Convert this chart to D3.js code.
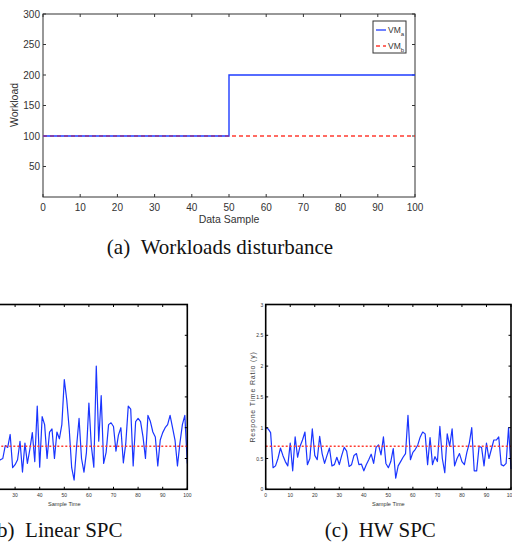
<!DOCTYPE html>
<html>
<head>
<meta charset="utf-8">
<script src="https://cdn.jsdelivr.net/npm/d3@7"></script>
<style>
    body { margin: 0; background: #fff; }
    svg { display: block; }
</style>
</head>
<body>
<div id="fig"></div>
<script>
// ---- data ----
// (a) workload disturbance, step series
var workloadSamples = [0, 50, 100];
var workloadVMa = [100, 200, 200];
var workloadVMb = [100, 100, 100];
var workloadTicksX = [0, 10, 20, 30, 40, 50, 60, 70, 80, 90, 100];
var workloadTicksY = [50, 100, 150, 200, 250, 300];

// (b) linear SPC response time ratio, samples 0..100
var linearSpc = [
    0.55, 0.62, 0.48, 0.7, 0.52, 0.6, 0.45, 0.66, 0.58, 0.5,
    0.72, 0.47, 0.61, 0.55, 0.68, 0.5, 0.57, 0.63, 0.46, 0.6,
    0.52, 0.66, 0.5, 0.45, 0.48, 0.5, 0.71, 0.68, 0.89, 0.35,
    0.4, 0.48, 0.78, 0.28, 0.75, 0.42, 0.65, 0.92, 0.45, 1.35,
    0.36, 1.18, 1.05, 0.5, 0.93, 0.98, 0.5, 0.93, 0.82, 1.05,
    1.78, 1.45, 0.98, 0.35, 0.15, 0.7, 1.15, 0.5, 0.28, 0.6,
    1.4, 0.7, 0.36, 2.0, 0.78, 1.52, 0.42, 0.6, 1.05, 1.08,
    1.02, 0.62, 0.88, 1.0, 0.43, 0.75, 1.35, 1.3, 0.38, 1.1,
    1.15, 1.1, 0.85, 0.5, 1.2, 1.1, 0.93, 0.85, 0.38, 0.8,
    0.92, 1.0, 1.05, 1.2, 1.0, 0.8, 0.38, 0.75, 1.05, 1.2,
    0.42
];

// (c) HW SPC response time ratio, samples 0..100
var hwSpc = [
    1.0, 0.98, 0.92, 0.35, 0.38, 0.5, 0.67, 0.55, 0.45, 0.38,
    0.75, 0.3, 0.85, 0.52, 0.7, 0.8, 0.93, 0.4, 0.5, 0.98,
    0.55, 0.48, 0.86, 0.58, 0.42, 0.55, 0.67, 0.38, 0.4, 0.52,
    0.4, 0.55, 0.68, 0.62, 0.37, 0.4, 0.55, 0.58, 0.4, 0.41,
    0.3, 0.4, 0.48, 0.57, 0.42, 0.68, 0.72, 0.56, 0.85, 0.42,
    0.35, 0.45, 0.66, 0.18, 0.38, 0.45, 0.52, 0.58, 1.2, 0.48,
    0.6, 0.65, 0.72, 0.85, 0.93, 0.9, 0.4, 0.84, 0.4, 0.53,
    0.45, 1.02, 0.5, 0.27, 0.9, 0.7, 0.98, 0.38, 0.5, 0.58,
    0.45, 0.4, 0.6, 0.75, 1.0, 0.3, 0.3, 0.7, 0.68, 0.38,
    0.75, 0.5, 0.65, 0.8, 0.8, 0.85, 0.4, 0.38, 0.42, 1.0,
    0.33
];
var spcTarget = 0.7;
var spcTicksX = [0, 10, 20, 30, 40, 50, 60, 70, 80, 90, 100];
var spcTicksY = [0, 0.5, 1, 1.5, 2, 2.5, 3];
var spcTickLabelsY = ['0', '0.5', '1', '1.5', '2', '2.5', '3'];

var W = 512, H = 547;
var sansFont = 'Liberation Sans, Arial, Helvetica, sans-serif';
var serifFont = 'Liberation Serif, Times New Roman, serif';

var svg = d3.select('#fig').append('svg')
    .attr('width', W)
    .attr('height', H);

/**
 * Draws a MATLAB style box with inward ticks on all four sides
 */
var drawBox = function (g, x, y, ticksX, ticksY, tickLen, stroke, width) {
    var r = x.range(), b = y.range();
    g.append('rect')
        .attr('x', r[0]).attr('y', b[1])
        .attr('width', r[1] - r[0]).attr('height', b[0] - b[1])
        .attr('fill', 'none')
        .attr('stroke', stroke)
        .attr('stroke-width', width);

    ticksX.forEach(function (t) {
        [b[0], b[1]].forEach(function (yy, i) {
            g.append('line')
                .attr('x1', x(t)).attr('x2', x(t))
                .attr('y1', yy).attr('y2', i === 0 ? yy - tickLen : yy + tickLen)
                .attr('stroke', stroke).attr('stroke-width', 1);
        });
    });
    ticksY.forEach(function (t) {
        [r[0], r[1]].forEach(function (xx, i) {
            g.append('line')
                .attr('y1', y(t)).attr('y2', y(t))
                .attr('x1', xx).attr('x2', i === 0 ? xx + tickLen : xx - tickLen)
                .attr('stroke', stroke).attr('stroke-width', 1);
        });
    });
};

// ---- (a) workloads ----
var xa = d3.scaleLinear().domain([0, 100]).range([43, 415]);
var ya = d3.scaleLinear().domain([0, 300]).range([197, 14]);
var ga = svg.append('g');

drawBox(ga, xa, ya, workloadTicksX, workloadTicksY, 3, '#333', 1);

var stepLine = d3.line()
    .x(function (d) { return xa(d[0]); })
    .y(function (d) { return ya(d[1]); })
    .curve(d3.curveStepAfter);

ga.append('path')
    .datum(d3.zip(workloadSamples, workloadVMb))
    .attr('d', stepLine)
    .attr('fill', 'none')
    .attr('stroke', '#ff3b30')
    .attr('stroke-width', 1.3)
    .attr('stroke-dasharray', '4,3');

ga.append('path')
    .datum(d3.zip(workloadSamples, workloadVMa))
    .attr('d', stepLine)
    .attr('fill', 'none')
    .attr('stroke', '#1f3dff')
    .attr('stroke-width', 1.4);

// red dashes stay faintly visible on top of the shared segment
ga.append('path')
    .datum(d3.zip(workloadSamples, workloadVMb).slice(0, 2))
    .attr('d', stepLine)
    .attr('fill', 'none')
    .attr('stroke', '#ff3b30')
    .attr('stroke-opacity', 0.35)
    .attr('stroke-width', 1.3)
    .attr('stroke-dasharray', '4,3');

ga.selectAll('.xlab')
    .data(workloadTicksX)
    .enter().append('text')
    .attr('x', function (d) { return xa(d); })
    .attr('y', 211)
    .attr('text-anchor', 'middle')
    .attr('font-family', sansFont)
    .attr('font-size', 10)
    .attr('fill', '#333')
    .text(function (d) { return d; });

ga.selectAll('.ylab')
    .data(workloadTicksY)
    .enter().append('text')
    .attr('x', 40)
    .attr('y', function (d) { return ya(d) + 3.5; })
    .attr('text-anchor', 'end')
    .attr('font-family', sansFont)
    .attr('font-size', 10)
    .attr('fill', '#333')
    .text(function (d) { return d; });

ga.append('text')
    .attr('x', 229).attr('y', 223)
    .attr('text-anchor', 'middle')
    .attr('font-family', sansFont).attr('font-size', 10.5).attr('fill', '#333')
    .text('Data Sample');

ga.append('text')
    .attr('transform', 'translate(18,105) rotate(-90)')
    .attr('text-anchor', 'middle')
    .attr('font-family', sansFont).attr('font-size', 10.5).attr('fill', '#333')
    .text('Workload');

// legend
var legend = ga.append('g');
legend.append('rect')
    .attr('x', 373).attr('y', 21)
    .attr('width', 33).attr('height', 32)
    .attr('fill', '#fff').attr('stroke', '#333').attr('stroke-width', 1);

var legendItems = [
    { name: 'VM', sub: 'a', color: '#1f3dff', dash: null },
    { name: 'VM', sub: 'b', color: '#ff3b30', dash: '4,3' }
];
legendItems.forEach(function (item, i) {
    var ly = 30 + i * 16;
    legend.append('line')
        .attr('x1', 376).attr('x2', 386)
        .attr('y1', ly).attr('y2', ly)
        .attr('stroke', item.color).attr('stroke-width', 1.3)
        .attr('stroke-dasharray', item.dash);
    var t = legend.append('text')
        .attr('x', 388).attr('y', ly + 2.5)
        .attr('font-family', sansFont).attr('font-size', 8.5).attr('fill', '#333');
    t.append('tspan').text(item.name);
    t.append('tspan').attr('font-size', 6).attr('dy', 3).text(item.sub);
});

svg.append('text')
    .attr('x', 220).attr('y', 254)
    .attr('text-anchor', 'middle')
    .attr('font-family', serifFont).attr('font-size', 21).attr('fill', '#111')
    .text('(a)\u00a0\u00a0Workloads disturbance');

// ---- (b) and (c) SPC panels ----
var drawSpc = function (values, left, right, caption) {
    var g = svg.append('g');
    var x = d3.scaleLinear().domain([0, 100]).range([left, right]);
    var y = d3.scaleLinear().domain([0, 3]).range([489.3, 304.5]);

    var line = d3.line()
        .x(function (d, i) { return x(i); })
        .y(function (d) { return y(d); });

    g.append('path')
        .datum(values)
        .attr('d', line)
        .attr('fill', 'none')
        .attr('stroke', '#1a35ff')
        .attr('stroke-width', 1.2)
        .attr('stroke-linejoin', 'round');

    g.append('line')
        .attr('x1', x(0)).attr('x2', x(100))
        .attr('y1', y(spcTarget)).attr('y2', y(spcTarget))
        .attr('stroke', '#ff3b30')
        .attr('stroke-width', 1.5)
        .attr('stroke-dasharray', '2,2');

    drawBox(g, x, y, spcTicksX, spcTicksY, 2.5, '#000', 1.6);

    g.selectAll('.xt')
        .data(spcTicksX)
        .enter().append('text')
        .attr('x', function (d) { return x(d); })
        .attr('y', 497)
        .attr('text-anchor', 'middle')
        .attr('font-family', sansFont).attr('font-size', 5).attr('fill', '#333')
        .text(function (d) { return d; });

    g.selectAll('.yt')
        .data(spcTicksY)
        .enter().append('text')
        .attr('x', left - 2.5)
        .attr('y', function (d) { return y(d) + 2; })
        .attr('text-anchor', 'end')
        .attr('font-family', sansFont).attr('font-size', 5).attr('fill', '#333')
        .text(function (d, i) { return spcTickLabelsY[i]; });

    g.append('text')
        .attr('x', (left + right) / 2).attr('y', 506)
        .attr('text-anchor', 'middle')
        .attr('font-family', sansFont).attr('font-size', 5.6).attr('fill', '#333')
        .text('Sample Time');

    g.append('text')
        .attr('transform', 'translate(' + (left - 11) + ',397) rotate(-90)')
        .attr('text-anchor', 'middle')
        .attr('font-family', sansFont).attr('font-size', 7)
        .attr('letter-spacing', 0.8).attr('fill', '#444')
        .text('Respone Time Ratio (y)');

    svg.append('text')
        .attr('x', (left + right) / 2 - 8).attr('y', 537)
        .attr('text-anchor', 'middle')
        .attr('font-family', serifFont).attr('font-size', 21).attr('fill', '#111')
        .text(caption);
};

drawSpc(linearSpc, -58.7, 187.3, '(b)\u00a0\u00a0Linear SPC');
drawSpc(hwSpc, 265.7, 511, '(c)\u00a0\u00a0HW SPC');
</script>
</body>
</html>
